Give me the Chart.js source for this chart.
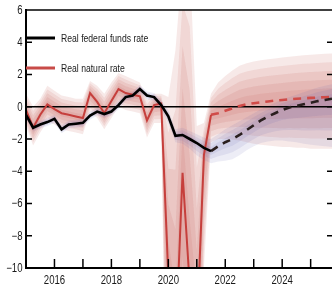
<!DOCTYPE html>
<html><head><meta charset="utf-8">
<script src="https://cdn.jsdelivr.net/npm/chart.js@4.4.1/dist/chart.umd.min.js"></script>
<style>html,body{margin:0;padding:0;background:#fff;overflow:hidden}canvas{display:block}</style>
</head><body>
<canvas id="c" width="332" height="288"></canvas>
<script>
const quarters = ['2015Q1','2015Q2','2015Q3','2015Q4','2016Q1','2016Q2','2016Q3','2016Q4',
  '2017Q1','2017Q2','2017Q3','2017Q4','2018Q1','2018Q2','2018Q3','2018Q4',
  '2019Q1','2019Q2','2019Q3','2019Q4','2020Q1','2020Q2','2020Q3','2020Q4',
  '2021Q1','2021Q2','2021Q3','2021Q4','2022Q1','2022Q2','2022Q3','2022Q4',
  '2023Q1','2023Q2','2023Q3','2023Q4','2024Q1','2024Q2','2024Q3','2024Q4',
  '2025Q1','2025Q2','2025Q3','2025Q4'];
const seriesNames = ['Real federal funds rate', 'Real natural rate'];
// observed (2015Q1-2021Q3) and projected (2021Q3-2025Q4)
const fedFunds = [-0.5,-1.3,-1.1,-0.95,-0.75,-1.4,-1.1,-1.05,-1.0,-0.55,-0.3,-0.45,-0.3,0.1,0.6,0.7,1.1,0.7,0.6,0.1,-0.6,-1.8,-1.75,-2.0,-2.25,-2.55,-2.75];
const fedFundsProj = [-2.75,-2.45,-2.2,-2.0,-1.75,-1.45,-1.15,-0.85,-0.6,-0.4,-0.2,-0.05,0.05,0.15,0.25,0.35,0.42,0.5];
const naturalRate = [-0.2,-1.3,-0.5,0.15,-0.15,-0.4,-0.5,-0.6,-0.7,0.85,0.3,-0.4,0.35,1.1,0.85,0.75,0.65,-0.85,0.1,0.2,-10.5,-15,-4.1,-11,-14,-3,-0.5];
const naturalRateProj = [-0.5,-0.4,-0.25,-0.1,0.05,0.15,0.22,0.28,0.33,0.38,0.42,0.46,0.5,0.52,0.55,0.57,0.59,0.6];
// outer uncertainty bounds
const naturalHi = [0.8,0.0,0.5,1.3,1.0,0.7,0.6,0.5,0.5,1.6,1.3,0.8,1.5,2.1,1.9,1.7,1.5,0.4,0.8,0.8,0.6,3.5,9,9,-1.2,-1.0,0.8,1.5,1.9,2.25,2.55,2.7,2.8,2.88,2.95,3.0,3.05,3.1,3.15,3.2,3.22,3.25,3.28,3.3];
const naturalLo = [-1.2,-2.4,-1.6,-0.9,-1.1,-1.4,-1.5,-1.6,-1.7,-0.3,-0.7,-1.4,-0.7,0.0,-0.2,-0.3,-0.4,-1.9,-1.0,-1.0,-30,-30,-30,-30,-30,-10,-2.2,-2.0,-2.0,-2.05,-2.1,-2.2,-2.3,-2.35,-2.4,-2.45,-2.5,-2.5,-2.55,-2.55,-2.6,-2.6,-2.6,-2.6];
const fedHi = [-0.25,-1.0,-0.85,-0.7,-0.5,-1.15,-0.85,-0.8,-0.75,-0.3,-0.05,-0.2,-0.05,0.35,0.85,0.95,1.35,0.95,0.85,0.4,-0.2,-1.4,-1.3,-1.5,-1.7,-1.9,-2.0,-1.7,-1.4,-1.15,-0.9,-0.65,-0.4,-0.15,0.05,0.25,0.45,0.6,0.75,0.9,1.05,1.2,1.3,1.4];
const fedLo = [-0.75,-1.55,-1.35,-1.2,-1.0,-1.65,-1.35,-1.3,-1.25,-0.8,-0.55,-0.7,-0.55,-0.15,0.35,0.45,0.85,0.45,0.35,-0.2,-1.0,-2.2,-2.3,-2.6,-3.0,-3.3,-3.5,-3.4,-3.35,-3.25,-3.0,-2.7,-2.45,-2.25,-2.15,-2.1,-2.1,-2.15,-2.2,-2.3,-2.35,-2.4,-2.45,-2.5];
const yTicks = [6,4,2,0,-2,-4,-6,-8,-10];
const xTickYears = [2016,2017,2018,2019,2020,2021,2022,2023,2024,2025];
const xLabelYears = [2016,2018,2020,2022,2024];

const FONT = "'Liberation Sans',Arial,sans-serif";
const qx = quarters.map(q => +q.slice(0,4) + (+q.slice(5) - 1) / 4);
const projStart = fedFunds.length - 1;
const pts = (arr, start) => arr.map((v, i) => ({x: qx[start + i], y: v}));
const natCenter = naturalRate.concat(naturalRateProj.slice(1));
const ffCenter = fedFunds.concat(fedFundsProj.slice(1));
const NONE = 'rgba(0,0,0,0)';

const datasets = [];
datasets.push({data: pts(fedFunds, 0), borderColor: '#000', borderWidth: 2.6, order: 0});
datasets.push({data: pts(fedFundsProj, projStart), borderColor: '#2a1f1f', borderWidth: 2.6, borderDash: [8, 6], order: 0});
datasets.push({data: pts(naturalRate, 0), borderColor: '#c63f3c', borderWidth: 2, order: 1});
datasets.push({data: pts(naturalRateProj, projStart), borderColor: '#d04b48', borderWidth: 2.6, borderDash: [8, 6], order: 1});
datasets.push({data: [{x: qx[0], y: 0}, {x: qx[qx.length - 1], y: 0}], borderColor: '#000', borderWidth: 1.4, order: 2});

function addBand(center, hi, lo, fracs, color, baseOrder) {
  fracs.forEach((f, k) => {
    const loIdx = datasets.length;
    datasets.push({data: center.map((c, i) => ({x: qx[i], y: c + (lo[i] - c) * f})),
      borderColor: NONE, borderWidth: 0.01, fill: false, order: baseOrder + k});
    datasets.push({data: center.map((c, i) => ({x: qx[i], y: c + (hi[i] - c) * f})),
      borderColor: NONE, borderWidth: 0.01, fill: loIdx, backgroundColor: color, order: baseOrder + k});
  });
}
addBand(ffCenter, fedHi, fedLo, [1, 0.66, 0.33], 'rgba(95,90,170,0.11)', 3);
addBand(natCenter, naturalHi, naturalLo, [1, 0.8, 0.6, 0.4, 0.2], 'rgba(200,100,90,0.14)', 10);

function narrowText(ctx, txt, x, y, align, size, sx) {
  ctx.save();
  ctx.font = size + 'px ' + FONT;
  ctx.textBaseline = 'middle';
  ctx.textAlign = align;
  ctx.translate(x, y);
  ctx.scale(sx, 1);
  ctx.fillText(txt, 0, 0);
  ctx.restore();
}

const axesPlugin = {
  id: 'axesPlugin',
  afterDraw(chart) {
    const ctx = chart.ctx, ca = chart.chartArea, xs = chart.scales.x, ys = chart.scales.y;
    const line = (x1, y1, x2, y2) => { ctx.beginPath(); ctx.moveTo(x1, y1); ctx.lineTo(x2, y2); ctx.stroke(); };
    ctx.save();
    ctx.strokeStyle = '#000';
    ctx.lineWidth = 1.5; line(ca.left, ca.top, ca.right, ca.top);
    ctx.lineWidth = 2; line(ca.left, ca.top - 1, ca.left, ca.bottom + 1);
    line(ca.left, ca.bottom, ca.right, ca.bottom);
    ctx.lineWidth = 1.5;
    ctx.fillStyle = '#1a1a1a';
    yTicks.forEach((v, i) => {
      const y = ys.getPixelForValue(v);
      narrowText(ctx, v < 0 ? '\u2212' + Math.abs(v) : String(v), ca.left - 3.5, y + 0.5, 'right', 12, 0.8);
      if (i === 0 || i === yTicks.length - 1) return;
      line(ca.left, y, ca.left + 6, y);
      line(ca.right - 5, y, ca.right, y);
    });
    xTickYears.forEach(yr => { const x = xs.getPixelForValue(yr); line(x, ca.bottom, x, ca.bottom - 9); });
    xLabelYears.forEach(yr => narrowText(ctx, String(yr), xs.getPixelForValue(yr), ca.bottom + 13, 'center', 12, 0.8));
    // legend
    const items = [{c: '#000', y: 38}, {c: '#c84b48', y: 68}];
    ctx.lineWidth = 3;
    items.forEach((it, i) => {
      ctx.strokeStyle = it.c;
      line(ca.left, it.y, ca.left + 29, it.y);
      narrowText(ctx, seriesNames[i], ca.left + 35, it.y + 0.5, 'left', 11.5, 0.75);
    });
    ctx.restore();
  }
};

new Chart(document.getElementById('c'), {
  type: 'line',
  data: {datasets},
  options: {
    responsive: false, animation: false, devicePixelRatio: 1,
    layout: {padding: {top: 10, right: 0, bottom: 0, left: 0}},
    elements: {point: {radius: 0}, line: {tension: 0}},
    plugins: {legend: {display: false}, tooltip: {enabled: false}},
    scales: {
      x: {type: 'linear', min: qx[0], max: qx[qx.length - 1],
        grid: {display: false, drawTicks: false}, border: {display: false},
        afterFit: s => { s.height = 20; },
        ticks: {display: false, stepSize: 1}},
      y: {min: -10, max: 6,
        grid: {display: false, drawTicks: false}, border: {display: false},
        afterFit: s => { s.width = 26; },
        ticks: {display: false, stepSize: 2}}
    }
  },
  plugins: [axesPlugin]
});
</script>
</body></html>
